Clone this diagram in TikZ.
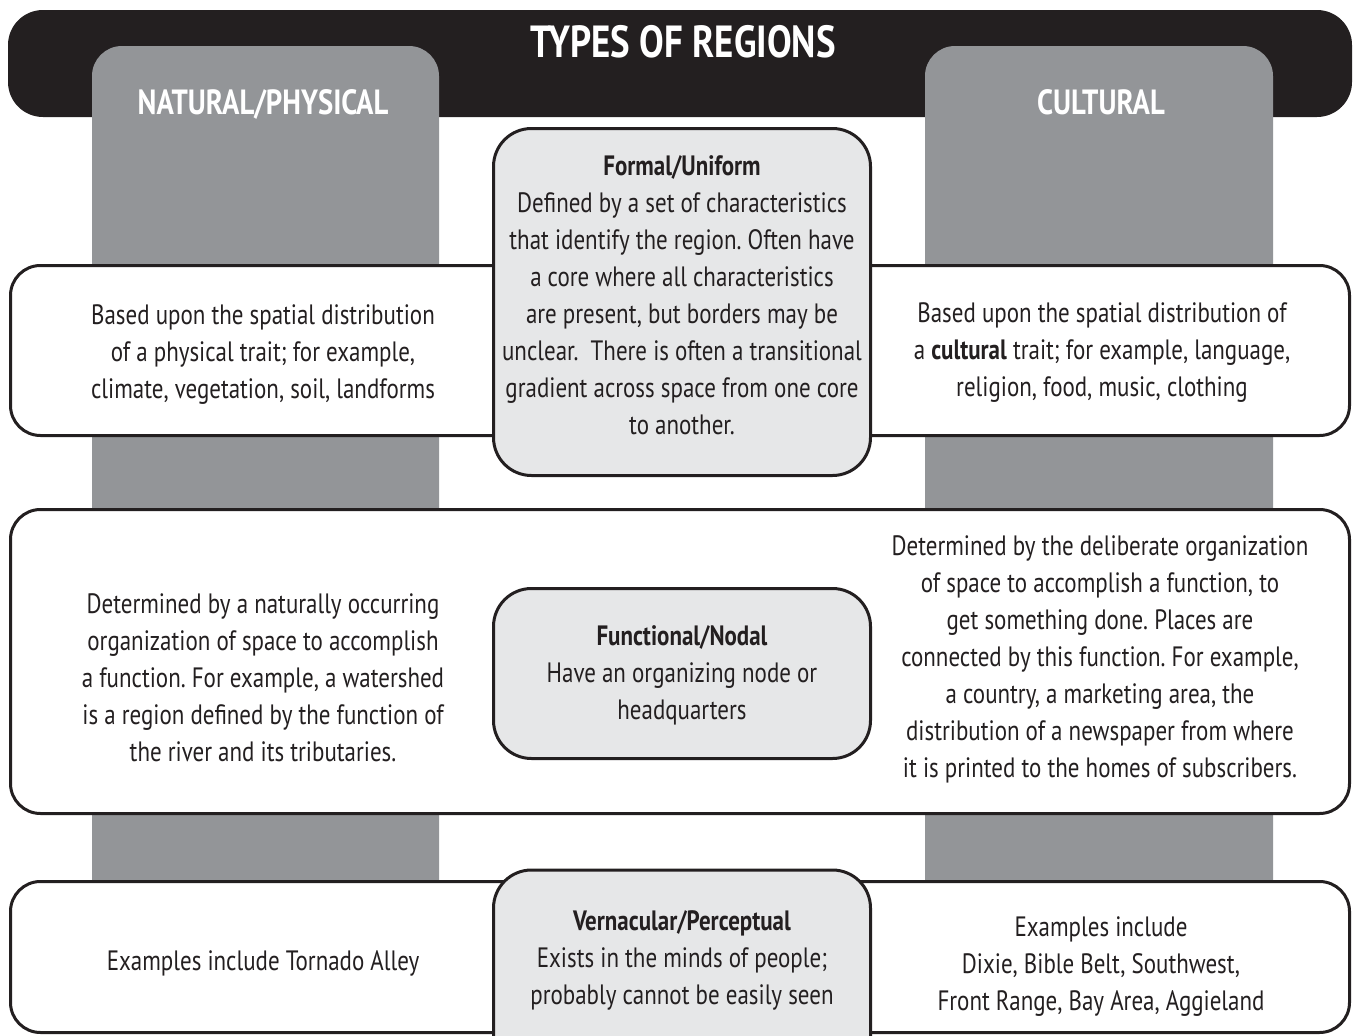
\documentclass[tikz,border=0pt]{standalone}
\usepackage{fontspec}
\setmainfont{PT Sans}[FakeStretch=0.82]
\definecolor{ink}{HTML}{231F20}
\definecolor{colgray}{HTML}{939598}
\definecolor{boxgray}{HTML}{E6E7E8}
\begin{document}
\frenchspacing
\begin{tikzpicture}[x=1pt,y=-1pt,
  rowbox/.style={draw=ink, line width=3pt, fill=white, rounded corners=30pt, inner sep=0pt, minimum width=1339pt},
  centerbox/.style={draw=ink, line width=3pt, fill=boxgray, rounded corners=38pt, inner sep=0pt, minimum width=377pt},
  body/.style={text=ink, align=center, font=\fontsize{28}{37}\selectfont\frenchspacing, inner sep=0pt},
  collabel/.style={text=white, font=\bfseries\fontsize{35}{35}\selectfont, inner sep=0pt},
  column/.style={fill=colgray, rounded corners=30pt}]
\useasboundingbox (0,0) rectangle (1353,1036);
\clip (0,0) rectangle (1353,1036);
% header
\node[fill=ink, rounded corners=35pt, minimum width=1344pt, minimum height=107pt, inner sep=0pt] (hdr) at (680,63.5) {};
\node[text=white, font=\bfseries\fontsize{45}{45}\selectfont, inner sep=0pt] (title) at (683,42) {TYPES OF REGIONS};
% columns
\fill[column] (92,960) -- (92,46) -- (439,46) -- (439,960) -- cycle;
\fill[column] (925,960) -- (925,46) -- (1273,46) -- (1273,960) -- cycle;
\node[collabel] (natlabel) at (263,104) {NATURAL/PHYSICAL};
\node[collabel] (cultlabel) at (1101,102) {CULTURAL};
% rows
\node[rowbox, minimum height=170pt] (row1) at (680,350.5) {};
\node[rowbox, minimum height=304pt] (row2) at (680,661.5) {};
\node[rowbox, minimum height=151pt] (row3) at (680,957) {};
% center boxes
\node[centerbox, minimum height=347pt] (formal) at (682,302) {};
\node[centerbox, minimum height=170pt] (functional) at (682,673.5) {};
\node[centerbox, minimum height=210pt] (vernacular) at (682,975) {};
% texts row 1
\node[body] (t1l) at (263,355) {Based upon the spatial distribution\\of a physical trait; for example,\\climate, vegetation, soil, landforms};
\node[body] (t1c) at (682,295.5) {\textbf{Formal/Uniform}\\Defined by a set of characteristics\\that identify the region. Often have\\a core where all characteristics\\are present, but borders may be\\unclear.\ \ There is often a transitional\\gradient across space from one core\\to another.};
\node[body] (t1r) at (1102,353) {Based upon the spatial distribution of\\a \textbf{cultural} trait; for example, language,\\religion, food, music, clothing};
% texts row 2
\node[body] (t2l) at (263,678) {Determined by a naturally occurring\\organization of space to accomplish\\a function. For example, a watershed\\is a region defined by the function of\\the river and its tributaries.};
\node[body] (t2c) at (682,675) {\textbf{Functional/Nodal}\\Have an organizing node or\\headquarters};
\node[body] (t2r) at (1100,659) {Determined by the deliberate organization\\of space to accomplish a function, to\\get something done. Places are\\connected by this function. For example,\\a country, a marketing area, the\\distribution of a newspaper from where\\it is printed to the homes of subscribers.};
% texts row 3
\node[body] (t3l) at (263,963) {Examples include Tornado Alley};
\node[body] (t3c) at (682,960) {\textbf{Vernacular/Perceptual}\\Exists in the minds of people;\\probably cannot be easily seen};
\node[body] (t3r) at (1101,967) {Examples include\\Dixie, Bible Belt, Southwest,\\Front Range, Bay Area, Aggieland};
\end{tikzpicture}
\end{document}
